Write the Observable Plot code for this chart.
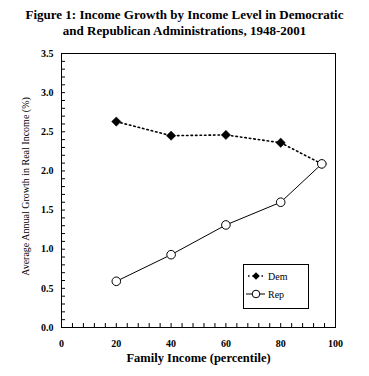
<!DOCTYPE html>
<html>
<head>
<meta charset="utf-8">
<script src="https://cdn.jsdelivr.net/npm/d3@7"></script>
<script src="https://cdn.jsdelivr.net/npm/@observablehq/plot@0.6"></script>
<style>
  html, body { margin: 0; padding: 0; background: #fff; }
  #wrap { position: relative; width: 369px; height: 376px; font-family: "Liberation Serif", "Times New Roman", serif; }
  #title { height: 44px; box-sizing: border-box; padding-top: 7px; text-align: center; font-weight: bold; font-size: 13px; line-height: 16px; color: #000; }
  #legend { position: absolute; left: 243px; top: 264px; width: 66px; height: 45px; box-sizing: border-box; border: 1px solid #000; background: #fff; font-size: 10px; font-family: "Liberation Serif", serif; }
  #legend .row { position: absolute; left: 0; height: 14px; display: flex; align-items: center; }
  #legend svg { display: block; }
  #legend span { margin-left: 2px; }
</style>
</head>
<body>
<div id="wrap">
  <div id="title">Figure 1: Income Growth by Income Level in Democratic<br>and Republican Administrations, 1948-2001</div>
  <div id="chart"></div>
  <div id="legend"></div>
</div>
<script>
// Data
const percentiles = [20, 40, 60, 80, 95];
const demGrowth = [2.63, 2.45, 2.46, 2.36, 2.09];
const repGrowth = [0.59, 0.93, 1.31, 1.60, 2.09];
const seriesNames = ["Dem", "Rep"];
const xTicks = [0, 20, 40, 60, 80, 100];
const yTicks = [0, 0.5, 1.0, 1.5, 2.0, 2.5, 3.0, 3.5];
const xLabel = "Family Income (percentile)";
const yLabel = "Average Annual Growth in Real Income (%)";

const dem = percentiles.map((p, i) => ({x: p, y: demGrowth[i]}));
const rep = percentiles.map((p, i) => ({x: p, y: repGrowth[i]}));
const xMinor = d3.range(0, 100.001, 4);
const yMinor = d3.range(0, 35.001, 1).map(d => d / 10);

const serif = '"Liberation Serif", "Times New Roman", serif';

const chart = Plot.plot({
  width: 369,
  height: 332,
  marginTop: 9,
  marginBottom: 49,
  marginLeft: 61,
  marginRight: 34,
  style: {fontFamily: serif, fontSize: "10px", color: "#000", background: "#fff"},
  x: {domain: [0, 100]},
  y: {domain: [0, 3.5]},
  marks: [
    Plot.frame({stroke: "#000", strokeWidth: 1}),
    Plot.axisX(xMinor, {tickSize: -4, text: null, stroke: "#000", strokeWidth: 1, label: null}),
    Plot.axisY(yMinor, {tickSize: -4, text: null, stroke: "#000", strokeWidth: 1, label: null}),
    Plot.axisX(xTicks, {tickSize: 0, tickPadding: 12, tickFormat: d => String(d), fontWeight: "bold", fontSize: 10, fontFamily: serif, label: null}),
    Plot.axisY(yTicks, {tickSize: 0, tickPadding: 8, tickFormat: d => d.toFixed(1), fontWeight: "bold", fontSize: 10, fontFamily: serif, label: null}),
    Plot.text([xLabel], {text: d => d, frameAnchor: "bottom", dy: 34, fontWeight: "bold", fontSize: 12.5, fontFamily: serif, fill: "#000"}),
    Plot.text([yLabel], {text: d => d, frameAnchor: "left", textAnchor: "middle", rotate: -90, dx: -36, dy: -4, fontSize: 10, fontFamily: serif, fill: "#000"}),
    Plot.line(dem, {x: "x", y: "y", stroke: "#000", strokeWidth: 1.6, strokeDasharray: "1.5,3"}),
    Plot.line(rep, {x: "x", y: "y", stroke: "#000", strokeWidth: 1}),
    Plot.dot(dem, {x: "x", y: "y", symbol: "diamond2", r: 4.2, fill: "#000", stroke: "#000", strokeWidth: 0.5}),
    Plot.dot(rep, {x: "x", y: "y", symbol: "circle", r: 4.3, fill: "#fff", stroke: "#000", strokeWidth: 1})
  ]
});
document.getElementById("chart").appendChild(chart);

// Legend
const legend = document.getElementById("legend");
function row(name, top, dotted, filledDiamond) {
  const r = document.createElement("div");
  r.className = "row";
  r.style.top = top + "px";
  const ns = "http://www.w3.org/2000/svg";
  const s = document.createElementNS(ns, "svg");
  s.setAttribute("width", 22); s.setAttribute("height", 14);
  const l = document.createElementNS(ns, "line");
  l.setAttribute("x1", dotted ? 4 : 2); l.setAttribute("x2", 21);
  l.setAttribute("y1", 7); l.setAttribute("y2", 7);
  l.setAttribute("stroke", "#000");
  l.setAttribute("stroke-width", dotted ? 1.6 : 1);
  if (dotted) l.setAttribute("stroke-dasharray", "1.5,3");
  s.appendChild(l);
  if (filledDiamond) {
    const p = document.createElementNS(ns, "path");
    p.setAttribute("d", "M12,3.2L15.8,7L12,10.8L8.2,7Z");
    p.setAttribute("fill", "#000");
    s.appendChild(p);
  } else {
    const c = document.createElementNS(ns, "circle");
    c.setAttribute("cx", 12); c.setAttribute("cy", 7); c.setAttribute("r", 3.8);
    c.setAttribute("fill", "#fff"); c.setAttribute("stroke", "#000");
    s.appendChild(c);
  }
  r.appendChild(s);
  const t = document.createElement("span");
  t.textContent = name;
  r.appendChild(t);
  legend.appendChild(r);
}
row(seriesNames[0], 4, true, true);
row(seriesNames[1], 22, false, false);
</script>
</body>
</html>
